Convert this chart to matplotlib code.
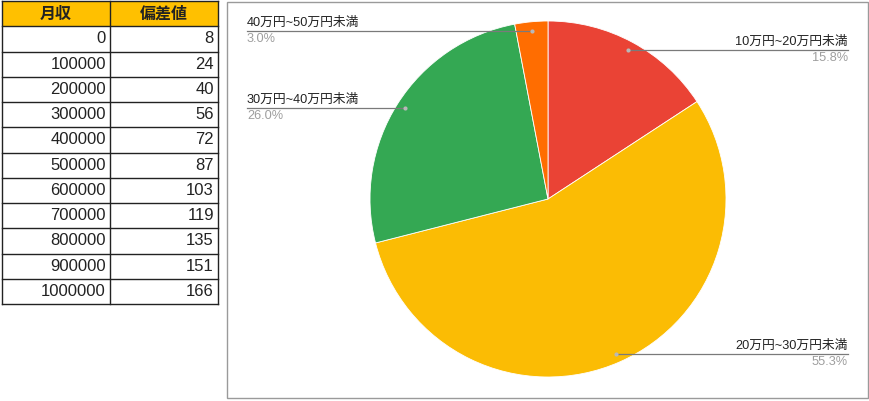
import numpy as np
import matplotlib.pyplot as plt
from matplotlib.patches import Rectangle

plt.rcParams['font.family'] = ['Liberation Sans', 'Noto Sans CJK JP', 'DejaVu Sans']

# table data
table_header = ['月収', '偏差値']
income = [0, 100000, 200000, 300000, 400000, 500000, 600000, 700000, 800000, 900000, 1000000]
score = [8, 24, 40, 56, 72, 87, 103, 119, 135, 151, 166]

# pie data
slice_labels = ['10万円~20万円未満', '20万円~30万円未満', '30万円~40万円未満', '40万円~50万円未満']
slice_pcts = [15.8, 55.3, 26.0, 3.0]
slice_colors = ['#EA4335', '#FBBC04', '#34A853', '#FF6D01']

W, H = 870, 401
fig = plt.figure(figsize=(W / 100, H / 100), dpi=100)

# background axes in pixel coords for table and frame
ov = fig.add_axes([0, 0, 1, 1])
ov.set_xlim(0, W)
ov.set_ylim(H, 0)
ov.axis('off')

# --- table ---
tx0, tx1, tx2 = 2, 110, 218
ty0, row_h = 1, 25.25
n_rows = len(income) + 1
ov.add_patch(Rectangle((tx0, ty0), tx2 - tx0, row_h, facecolor='#FFC000', edgecolor='none', zorder=1))
for i in range(n_rows + 1):
    y = ty0 + i * row_h
    ov.plot([tx0, tx2], [y, y], color='#222222', lw=1.0, zorder=2)
for x in (tx0, tx1, tx2):
    ov.plot([x, x], [ty0, ty0 + n_rows * row_h], color='#222222', lw=1.0, zorder=2)

ov.text((tx0 + tx1) / 2, ty0 + row_h / 2, table_header[0], ha='center', va='center',
        fontsize=11.5, fontweight='bold', family=['Noto Sans CJK JP'], color='#222222')
ov.text((tx1 + tx2) / 2, ty0 + row_h / 2, table_header[1], ha='center', va='center',
        fontsize=11.5, fontweight='bold', family=['Noto Sans CJK JP'], color='#222222')
for i, (a, b) in enumerate(zip(income, score)):
    yc = ty0 + (i + 1.5) * row_h
    ov.text(tx1 - 4, yc, str(a), ha='right', va='center', fontsize=12, color='#222222')
    ov.text(tx2 - 4, yc, str(b), ha='right', va='center', fontsize=12, color='#222222')

# --- chart frame ---
ov.add_patch(Rectangle((227, 2), 641, 396, facecolor='none', edgecolor='#9a9a9a', lw=1.0))

# --- pie ---
cx, cy, R = 548, 199, 178
pax = fig.add_axes([(cx - R) / W, (H - cy - R) / H, 2 * R / W, 2 * R / H])
wedges, _ = pax.pie(slice_pcts, colors=slice_colors, startangle=90, counterclock=False,
                    wedgeprops=dict(edgecolor='white', linewidth=0.6))
pax.set_xlim(-1, 1)
pax.set_ylim(-1, 1)
pax.set_aspect('equal')
pax.axis('off')

# label layer on top of the pie
lab_ax = fig.add_axes([0, 0, 1, 1])
lab_ax.set_xlim(0, W)
lab_ax.set_ylim(H, 0)
lab_ax.axis('off')
lab_ax.patch.set_alpha(0)

for w, lab, pct in zip(wedges, slice_labels, slice_pcts):
    ang = np.deg2rad((w.theta1 + w.theta2) / 2)
    px = cx + 0.95 * R * np.cos(ang)
    py = cy - 0.95 * R * np.sin(ang)
    lab_ax.plot(px, py, 'o', ms=3, color='#b8b8b8', mec='none', zorder=5)
    if px > cx:
        xe, ha = 848, 'right'
    else:
        xe, ha = 247, 'left'
    lab_ax.plot([px, xe], [py, py], color='#7a7a7a', lw=0.9, zorder=4)
    lab_ax.text(xe, py - 2, lab, ha=ha, va='bottom', fontsize=9.2,
                family=['Liberation Sans', 'Noto Sans CJK JP'], color='#222222')
    lab_ax.text(xe, py + 2, f'{pct:.1f}%', ha=ha, va='top', fontsize=9.2, color='#9e9e9e')

fig.savefig('out.png', dpi=100)
